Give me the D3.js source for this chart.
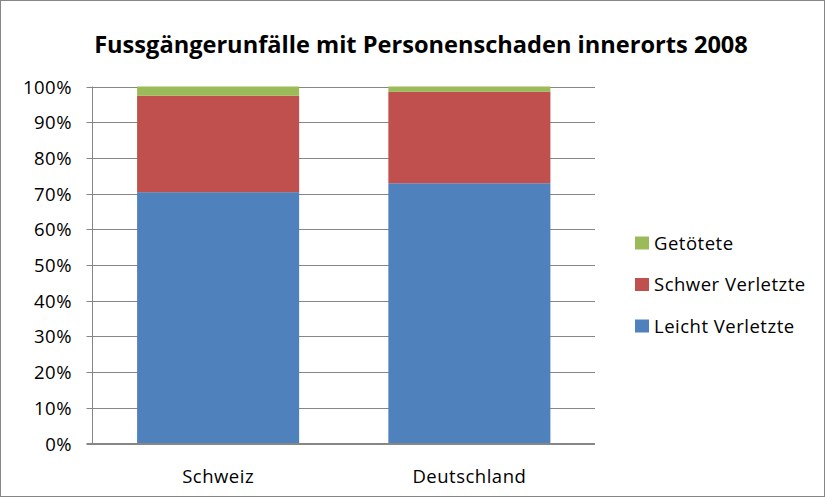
<!DOCTYPE html>
<html><head><meta charset="utf-8">
<script src="https://cdn.jsdelivr.net/npm/d3@7"></script>
<style>body{margin:0;background:#fff}svg{display:block}</style>
</head><body>
<script>
const categories = ["Schweiz", "Deutschland"];
const seriesNames = ["Leicht Verletzte", "Schwer Verletzte", "Getötete"];
const leicht = [70.4, 72.9];
const schwer = [27.0, 25.6];
const getoetete = [2.6, 1.5];
const tickValues = [0,10,20,30,40,50,60,70,80,90,100];
const colors = ["#4F81BD", "#C0504D", "#9BBB59"];

(function(){
const W = 825, H = 497;
const svg = d3.select("body").append("svg").attr("width", W).attr("height", H);
svg.append("rect").attr("x",0.5).attr("y",0.5).attr("width",W-1).attr("height",H-1)
  .attr("fill","#fff").attr("stroke","#868686");

const font = "'Open Sans', sans-serif";
const fs = 18.5, ls = 0.5;
const pLeft = 92.5, pRight = 595, pTop = 86.5, pBottom = 443.5;
const x = d3.scaleBand().domain(categories).range([pLeft, pRight]);
const y = d3.scaleLinear().domain([0,100]).range([pBottom, pTop]);

svg.append("text").attr("x", 421).attr("y", 53).attr("text-anchor","middle")
  .attr("font-family", font).attr("font-weight","bold").attr("font-size", 23.6)
  .attr("fill","#000").text("Fussgängerunfälle mit Personenschaden innerorts 2008");

svg.append("g").selectAll("line").data(tickValues).join("line")
  .attr("x1", pLeft-6).attr("x2", pRight).attr("y1", d=>Math.round(y(d))+0.5).attr("y2", d=>Math.round(y(d))+0.5)
  .attr("stroke","#868686").attr("stroke-width",1);
svg.append("line").attr("x1",pLeft).attr("x2",pLeft).attr("y1",pTop).attr("y2",pBottom)
  .attr("stroke","#868686");

svg.append("g").selectAll("text").data(tickValues).join("text")
  .attr("x", 72).attr("y", d=>y(d)+7).attr("text-anchor","end")
  .attr("font-family", font).attr("font-size", fs).attr("letter-spacing", ls).attr("fill","#000")
  .text(d=>d+"%");

const stackData = categories.map((c,i)=>({cat:c, "Leicht Verletzte":leicht[i], "Schwer Verletzte":schwer[i], "Getötete":getoetete[i]}));
const stack = d3.stack().keys(seriesNames)(stackData);
const bw = x.bandwidth()*0.645;
svg.append("g").selectAll("g").data(stack).join("g").attr("fill",(d,i)=>colors[i])
  .selectAll("rect").data(d=>d).join("rect")
  .attr("x", d=>x(d.data.cat)+(x.bandwidth()-bw)/2).attr("width", bw)
  .attr("y", d=>y(d[1])).attr("height", d=>y(d[0])-y(d[1]));

svg.append("line").attr("x1",pLeft-6).attr("x2",pRight).attr("y1",pBottom).attr("y2",pBottom).attr("stroke","#868686");

svg.append("g").selectAll("text").data(categories).join("text")
  .attr("x", d=>x(d)+x.bandwidth()/2).attr("y", 483).attr("text-anchor","middle")
  .attr("font-family", font).attr("font-size", fs).attr("letter-spacing", ls).attr("fill","#000").text(d=>d);

const legendOrder = [2,1,0];
const lg = svg.append("g");
legendOrder.forEach((si,k)=>{
  const base = 249.5 + k*41.5;
  lg.append("rect").attr("x",635).attr("y",base-13).attr("width",14).attr("height",13).attr("fill",colors[si]);
  lg.append("text").attr("x",654).attr("y",base).attr("font-family",font).attr("font-size",fs).attr("letter-spacing", ls).attr("fill","#000").text(seriesNames[si]);
});
})();
</script>
</body></html>
